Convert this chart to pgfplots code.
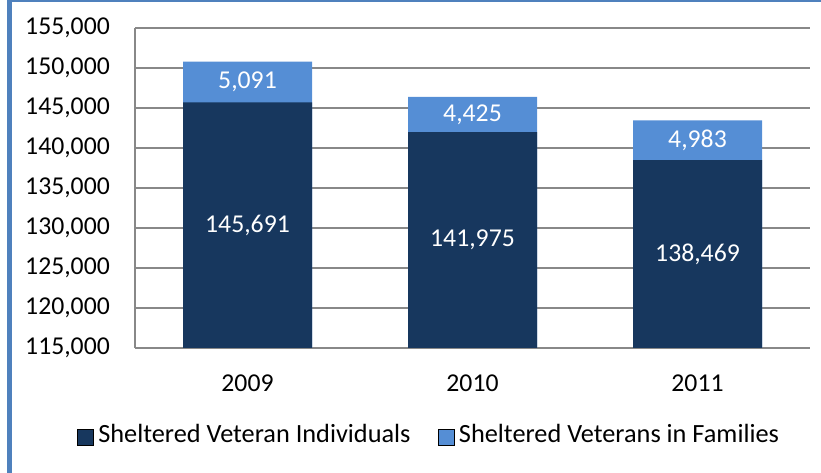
\documentclass[border=0pt]{standalone}
\usepackage{pgfplots}
\pgfplotsset{compat=1.18}
\usepackage{pgfplotstable}
\usepackage{fontspec}
\setmainfont{Carlito}
\definecolor{darkbar}{HTML}{17375E}
\definecolor{lightbar}{HTML}{558ED5}
\definecolor{gridgray}{HTML}{888888}
\definecolor{frameblue}{HTML}{4F81BD}
\newcommand{\cfont}{\fontsize{25.7bp}{30bp}\selectfont}
\pgfplotstableread{
x dark light total darkmid lightmid
0 145691 5091 150782 130345.5 148236.5
1 141975 4425 146400 128487.5 144187.5
2 138469 4983 143452 126734.5 140960.5
}\datatable
\begin{document}
\cfont
\begin{tikzpicture}
\useasboundingbox (0,0) rectangle (821bp,473bp);
\fill[frameblue] (7bp,0) rectangle (12bp,473bp);
\fill[frameblue] (7bp,470.5bp) rectangle (821bp,473bp);
\begin{axis}[
  at={(135bp,125bp)}, anchor=south west,
  scale only axis, width=675bp, height=320bp,
  xmin=-0.5, xmax=2.5, ymin=115000, ymax=155000,
  xtick={0,1,2}, xticklabels={2009,2010,2011},
  ytick={115000,120000,...,155000},
  scaled y ticks=false,
  /pgf/number format/.cd, fixed, 1000 sep={,}, assume math mode=true, /pgfplots/.cd,
  major tick length=0pt,
  axis x line*=bottom, axis y line*=left,
  axis line style={gridgray, line width=1.2bp, -},
  ymajorgrids, major grid style={gridgray, line width=1.2bp},
  tick label style={font=\cfont, inner sep=0pt, text=black},
  yticklabel style={xshift=-25bp},
  xticklabel style={yshift=-27bp},
  legend image code/.code={\fill[#1] (0bp,-8bp) rectangle (16bp,8bp);},
  legend style={at={(0.434,-0.278)}, anchor=center, draw=none, fill=none,
    font=\fontsize{26.3bp}{30bp}\selectfont, legend columns=2,
    /tikz/every even column/.append style={column sep=27bp},
    nodes={inner sep=0pt, anchor=west, text height=14bp}},
  legend cell align=left,
]
\addplot[ybar, bar width=129bp, bar shift=0pt, fill=lightbar, draw=none, forget plot] table[x=x, y=total] {\datatable};
\addplot[ybar, bar width=129bp, bar shift=0pt, fill=darkbar, draw=none, forget plot] table[x=x, y=dark] {\datatable};
\addplot[draw=none, mark=none, forget plot, point meta=explicit,
  nodes near coords={\pgfmathprintnumber[fixed,1000 sep={,},assume math mode=true]{\pgfplotspointmeta}},
  every node near coord/.style={anchor=center, text=white, font=\cfont}]
  table[x=x, y=darkmid, meta=dark] {\datatable};
\addplot[draw=none, mark=none, forget plot, point meta=explicit,
  nodes near coords={\pgfmathprintnumber[fixed,1000 sep={,},assume math mode=true]{\pgfplotspointmeta}},
  every node near coord/.style={anchor=center, text=white, font=\cfont}]
  table[x=x, y=lightmid, meta=light] {\datatable};
\addlegendimage{fill=darkbar}
\addlegendentry{\hspace{5bp}Sheltered Veteran Individuals}
\addlegendimage{fill=lightbar}
\addlegendentry{\hspace{5bp}Sheltered Veterans in Families}
\end{axis}
\end{tikzpicture}
\end{document}
